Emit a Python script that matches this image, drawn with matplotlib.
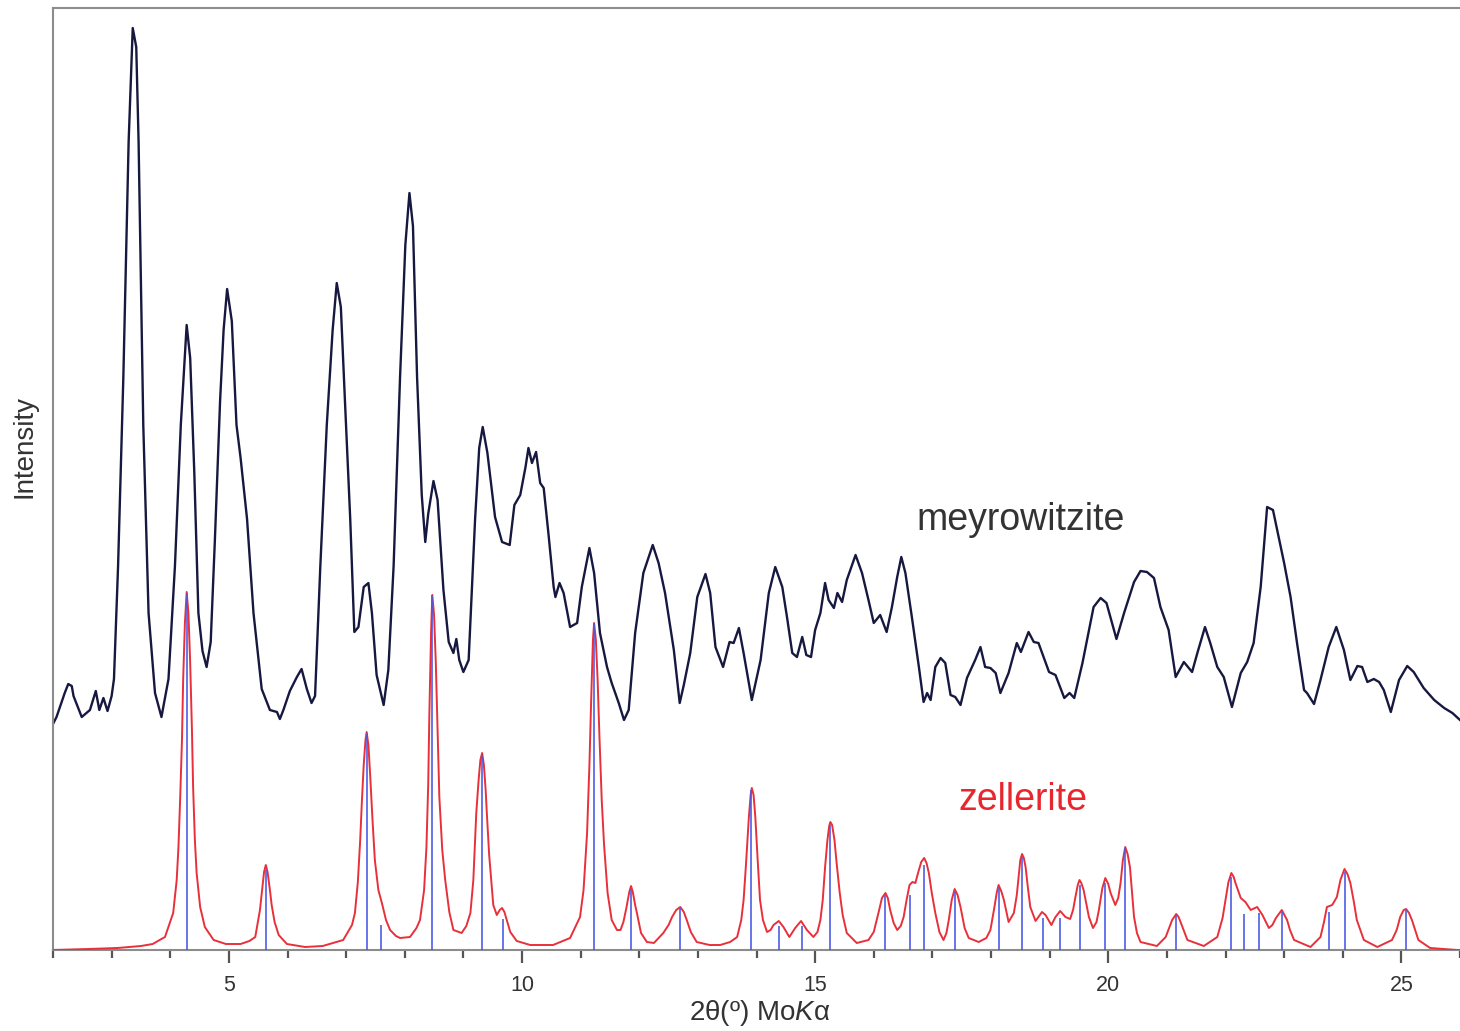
import numpy as np
import matplotlib
matplotlib.use("Agg")
import matplotlib.pyplot as plt
from matplotlib.ticker import MultipleLocator

plt.rcParams['font.family'] = ['Liberation Sans', 'DejaVu Sans']
plt.rcParams['mathtext.fontset'] = 'custom'
plt.rcParams['mathtext.rm'] = 'Liberation Sans'
plt.rcParams['mathtext.it'] = 'Liberation Sans:italic'

# meyrowitzite, observed pattern (2θ, intensity, arbitrary units)
meyro_2theta = [
    2.00, 2.06, 2.20, 2.26, 2.32, 2.35, 2.49, 2.63, 2.73, 2.79,
    2.86, 2.93, 3.00, 3.04, 3.11, 3.20, 3.29, 3.36, 3.42, 3.46,
    3.54, 3.63, 3.74, 3.85, 3.97, 4.08, 4.18, 4.28, 4.34, 4.41,
    4.48, 4.55, 4.62, 4.69, 4.76, 4.85, 4.91, 4.97, 5.05, 5.13,
    5.20, 5.31, 5.42, 5.56, 5.70, 5.82, 5.87, 5.93, 6.04, 6.16,
    6.24, 6.33, 6.41, 6.47, 6.56, 6.67, 6.77, 6.84, 6.91, 6.98,
    7.07, 7.14, 7.21, 7.30, 7.38, 7.44, 7.52, 7.64, 7.72, 7.81,
    7.92, 8.01, 8.08, 8.14, 8.21, 8.29, 8.35, 8.40, 8.49, 8.56,
    8.66, 8.75, 8.83, 8.88, 8.93, 9.00, 9.09, 9.20, 9.27, 9.33,
    9.41, 9.54, 9.66, 9.79, 9.87, 9.97,
    10.06, 10.11, 10.17, 10.24, 10.31, 10.37, 10.45, 10.54, 10.57, 10.64,
    10.71, 10.82, 10.94, 11.02, 11.15, 11.23, 11.33, 11.45, 11.53, 11.65,
    11.74, 11.82, 11.93, 12.07, 12.23, 12.33, 12.44, 12.59, 12.69, 12.76,
    12.87, 12.99, 13.13, 13.21, 13.30, 13.43, 13.54, 13.61, 13.70, 13.78,
    13.92, 14.07, 14.21, 14.32, 14.44, 14.52, 14.61, 14.69, 14.78, 14.85,
    14.93, 15.00, 15.09, 15.17, 15.23, 15.32, 15.38, 15.46, 15.54, 15.69,
    15.80, 15.91, 16.00, 16.11, 16.22, 16.31, 16.40, 16.47, 16.54, 16.65,
    16.77, 16.85, 16.91, 16.97, 17.05, 17.14, 17.22, 17.31, 17.39, 17.48,
    17.59, 17.73, 17.82, 17.90, 17.99, 18.08, 18.16,
    18.30, 18.44, 18.51, 18.64, 18.73, 18.81, 18.99, 19.10, 19.25, 19.34,
    19.42, 19.56, 19.75, 19.87, 19.97, 20.14, 20.27, 20.44, 20.55, 20.66,
    20.78, 20.89, 21.03, 21.15, 21.29, 21.43, 21.52, 21.65, 21.74, 21.86,
    21.97, 22.11, 22.26, 22.37, 22.48, 22.60, 22.71, 22.81, 22.91, 23.00,
    23.11, 23.22, 23.34, 23.39, 23.51, 23.62, 23.76, 23.89, 24.02, 24.13,
    24.25, 24.33, 24.42, 24.53, 24.62, 24.70, 24.82, 24.96, 25.10, 25.21,
    25.38, 25.56, 25.73, 25.87, 26.00,
]
meyro_int = [
    226, 233, 257, 266, 264, 254, 233, 240, 259, 240,
    252, 239, 254, 271, 384, 573, 808, 922, 903, 808,
    525, 337, 257, 233, 271, 384, 525, 625, 592, 478,
    337, 299, 283, 308, 408, 549, 620, 661, 629, 525,
    492, 431, 337, 261, 240, 238, 231, 240, 259, 273,
    281, 261, 247, 254, 384, 525, 620, 667, 643, 549,
    431, 318, 323, 363, 367, 337, 275, 245, 280, 384,
    573, 705, 757, 724, 573, 455, 408, 436, 469, 450,
    360, 308, 297, 311, 290, 278, 290, 431, 502, 523,
    497, 433, 408, 405, 445, 455,
    483, 502, 487, 498, 467, 462, 417, 363, 353, 367,
    357, 323, 327, 363, 402, 377, 317, 283, 267, 247,
    230, 240, 317, 377, 405, 387, 357, 300, 247, 265,
    297, 353, 376, 357, 303, 283, 308, 307, 322, 297,
    250, 290, 357, 383, 363, 333, 297, 293, 313, 295,
    293, 320, 337, 367, 350, 342, 357, 348, 370, 395,
    377, 350, 327, 335, 318, 343, 373, 393, 377, 333,
    283, 248, 257, 250, 283, 292, 287, 255, 253, 245,
    272, 290, 303, 283, 282, 277, 257,
    277, 307, 298, 318, 308, 307, 278, 275, 252, 257,
    252, 287, 343, 352, 347, 311, 337, 368, 379, 378,
    372, 343, 320, 273, 288, 278, 297, 323, 307, 283,
    273, 243, 277, 288, 307, 363, 443, 440, 412, 387,
    353, 307, 260, 257, 246, 270, 303, 323, 300, 270,
    284, 283, 268, 271, 268, 260, 238, 270, 284, 278,
    262, 250, 242, 237, 230,
]

# zellerite, calculated pattern
zell_2theta = [
    2.00, 2.60, 3.10, 3.50, 3.70, 3.91, 4.05, 4.11, 4.14, 4.17,
    4.20, 4.22, 4.25, 4.28, 4.31, 4.34, 4.37, 4.39, 4.42, 4.45,
    4.51, 4.59, 4.74, 4.95, 5.20, 5.35, 5.45, 5.53, 5.57, 5.60,
    5.63, 5.66, 5.70, 5.73, 5.78, 5.85, 5.99, 6.30, 6.60, 6.95,
    7.10, 7.15, 7.20, 7.24, 7.27, 7.30, 7.33, 7.35, 7.38, 7.41,
    7.45, 7.49, 7.55, 7.61, 7.68, 7.75, 7.85, 7.92, 8.09, 8.20,
    8.26, 8.33, 8.37, 8.40, 8.42, 8.45, 8.47, 8.50, 8.53, 8.56,
    8.59, 8.64, 8.69, 8.76, 8.83, 8.97, 9.05, 9.12, 9.17, 9.22,
    9.26, 9.29, 9.32, 9.35, 9.38, 9.40, 9.44, 9.51, 9.57, 9.62,
    9.66, 9.70, 9.74, 9.80, 9.91, 10.14, 10.53, 10.82, 10.99, 11.05,
    11.11, 11.15, 11.18, 11.21, 11.23, 11.26, 11.29, 11.32, 11.36, 11.40,
    11.46, 11.53, 11.62, 11.68, 11.73, 11.78, 11.83, 11.86, 11.89, 11.93,
    11.96, 12.03, 12.13, 12.25, 12.41, 12.50, 12.56, 12.63, 12.70, 12.76,
    12.81, 12.88, 12.98, 13.20, 13.38, 13.55, 13.67, 13.74, 13.78, 13.82,
    13.87, 13.90, 13.92, 13.95, 13.98, 14.02, 14.06, 14.11, 14.18, 14.24,
    14.29, 14.38, 14.46, 14.56, 14.66, 14.76, 14.86, 14.97, 15.04, 15.09,
    15.13, 15.17, 15.21, 15.24, 15.26, 15.29, 15.33, 15.37, 15.42, 15.47,
    15.54, 15.71, 15.91, 16.00, 16.08, 16.14, 16.20, 16.24, 16.28, 16.34,
    16.40, 16.46, 16.51, 16.56, 16.61, 16.66, 16.71, 16.76, 16.81, 16.86,
    16.90, 16.94, 16.99, 17.05, 17.12, 17.19, 17.24, 17.28, 17.33, 17.38,
    17.43, 17.48, 17.55, 17.62, 17.79, 17.92, 17.99, 18.05, 18.10, 18.13,
    18.18, 18.22, 18.30, 18.39, 18.44, 18.47, 18.50, 18.53, 18.56, 18.59,
    18.63, 18.67, 18.76, 18.87, 18.93, 19.03, 19.10, 19.18, 19.27, 19.35,
    19.40, 19.44, 19.48, 19.51, 19.54, 19.58, 19.67, 19.74, 19.80, 19.84,
    19.90, 19.95, 20.00, 20.04, 20.12, 20.17, 20.21, 20.25, 20.29, 20.33,
    20.37, 20.41, 20.44, 20.49, 20.55, 20.83, 20.98, 21.05, 21.09, 21.16,
    21.20, 21.24, 21.35, 21.63, 21.86, 21.95, 22.00, 22.05, 22.10, 22.14,
    22.17, 22.26, 22.34, 22.43, 22.54, 22.63, 22.74, 22.80, 22.86, 22.96,
    23.05, 23.10, 23.17, 23.45, 23.62, 23.68, 23.73, 23.82, 23.90, 23.96,
    24.03, 24.08, 24.13, 24.19, 24.24, 24.36, 24.59, 24.84, 24.92, 24.98,
    25.04, 25.08, 25.13, 25.18, 25.29, 25.49, 25.95, 26.00,
]
zell_int = [
    0, 1, 2, 4, 6, 13, 37, 70, 103, 153,
    210, 270, 327, 358, 337, 287, 220, 163, 110, 77,
    43, 23, 10, 6, 6, 9, 13, 40, 62, 78,
    85, 78, 60, 45, 28, 15, 6, 3, 4, 10,
    25, 37, 68, 110, 150, 185, 210, 218, 205, 175,
    130, 90, 60, 47, 30, 20, 14, 12, 13, 22,
    30, 60, 103, 165, 237, 320, 355, 335, 287, 220,
    153, 100, 70, 38, 20, 17, 24, 37, 70, 137,
    170, 190, 197, 185, 160, 137, 95, 45, 35, 40,
    42, 38, 30, 18, 9, 5, 5, 12, 33, 60,
    117, 185, 250, 310, 327, 310, 270, 215, 150, 105,
    57, 30, 20, 20, 28, 42, 58, 64, 58, 45,
    37, 17, 8, 7, 17, 25, 33, 40, 43, 38,
    30, 18, 8, 5, 5, 8, 13, 30, 50, 85,
    133, 155, 162, 155, 133, 90, 50, 30, 18, 20,
    25, 29, 23, 13, 22, 29, 20, 13, 18, 30,
    50, 83, 110, 124, 128, 125, 110, 85, 57, 35,
    17, 7, 10, 18, 37, 52, 57, 52, 40, 27,
    20, 24, 33, 50, 65, 68, 67, 78, 88, 92,
    87, 77, 57, 37, 18, 10, 17, 30, 50, 61,
    55, 43, 22, 12, 8, 12, 20, 40, 58, 65,
    58, 50, 28, 37, 55, 73, 90, 96, 92, 83,
    62, 43, 29, 38, 35, 25, 33, 39, 33, 31,
    40, 53, 65, 70, 67, 60, 33, 22, 28, 40,
    62, 72, 66, 57, 45, 52, 67, 90, 103, 96,
    83, 55, 33, 17, 8, 4, 13, 24, 30, 36,
    33, 27, 10, 4, 13, 32, 50, 68, 77, 73,
    67, 52, 48, 40, 43, 35, 22, 25, 32, 40,
    30, 20, 10, 3, 13, 28, 43, 45, 53, 70,
    81, 76, 67, 48, 30, 10, 3, 10, 20, 33,
    40, 41, 37, 30, 10, 2, 0, 0,
]

# zellerite reflections (stick pattern)
stick_2theta = [4.28, 5.63, 7.36, 7.60, 8.47, 9.32, 9.68, 11.23, 11.86, 12.70,
                13.91, 14.38, 14.78, 15.26, 16.19, 16.61, 16.86, 17.38, 18.14, 18.53,
                18.89, 19.18, 19.51, 19.95, 20.29, 21.16, 22.09, 22.32, 22.57, 22.96,
                23.76, 24.04, 25.08]
stick_int = [357, 80, 217, 25, 355, 195, 31, 327, 60, 42,
             160, 24, 24, 125, 55, 55, 85, 58, 63, 93,
             32, 32, 65, 67, 102, 35, 73, 36, 37, 38,
             38, 78, 40]

fig = plt.figure(figsize=(14.6, 10.31), dpi=100)
ax = fig.add_axes([53 / 1460, 81 / 1031, 1407 / 1460, 942 / 1031])

ax.plot(meyro_2theta, meyro_int, color="#16183f", lw=1.7, zorder=2)
ax.plot(zell_2theta, zell_int, color="#e8303a", lw=1.4, zorder=3)
ax.vlines(stick_2theta, 0, stick_int, color="#4a5ae6", lw=1.3, alpha=0.9, zorder=4)

ax.text(18.5, 430, "meyrowitzite", fontsize=27, color="#333333", ha="center", va="center")
ax.text(18.55, 150, "zellerite", fontsize=27, color="#e8262e", ha="center", va="center")

ax.set_xlim(2, 26)
ax.set_ylim(0, 942)
ax.set_yticks([])
ax.xaxis.set_major_locator(MultipleLocator(5))
ax.xaxis.set_minor_locator(MultipleLocator(1))
ax.tick_params(axis="x", which="major", length=9, width=1.6, color="#555555",
               labelsize=15.5, labelcolor="#333333", pad=9)
ax.tick_params(axis="x", which="minor", length=6, width=1.6, color="#555555")

for side in ["left", "top", "bottom"]:
    ax.spines[side].set_color("#8c8c8c")
    ax.spines[side].set_linewidth(1.5)
ax.spines["right"].set_visible(False)

fig.text(25 / 1460, 1 - 446 / 1031, "Intensity", rotation=90, fontsize=20,
         color="#333333", ha="center", va="center")
fig.text(760 / 1460, 1 - 1013 / 1031, "2θ(º) Mo$\\mathit{K}$α", fontsize=20,
         color="#333333", ha="center", va="center")

fig.savefig("out.png", dpi=100)
